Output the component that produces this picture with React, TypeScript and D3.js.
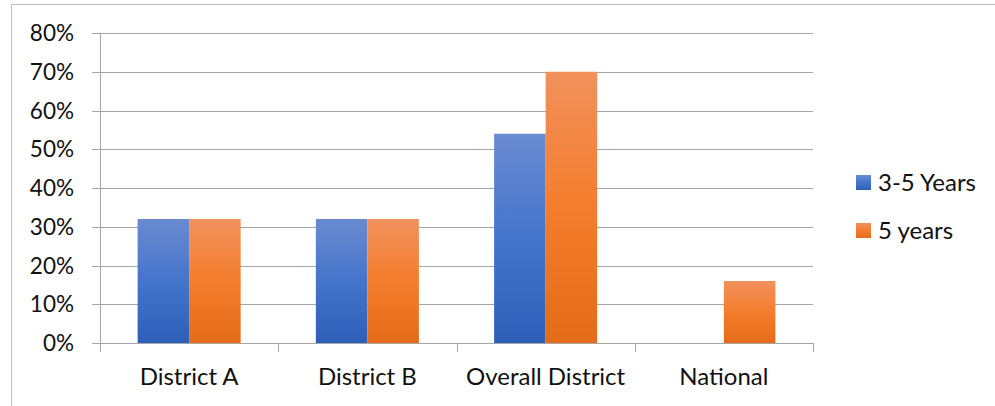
import React from "react";
import * as d3 from "d3";

const categories = ["District A", "District B", "Overall District", "National"];
const seriesNames = ["3-5 Years", "5 years"];
const years35 = [0.32, 0.32, 0.54, 0];
const years5 = [0.32, 0.32, 0.70, 0.16];
const yTicks = [0, 0.1, 0.2, 0.3, 0.4, 0.5, 0.6, 0.7, 0.8];

const W = 995;
const H = 406;
const plot = { left: 100, right: 813, top: 33, bottom: 343 };
const FONT = "Lato, 'Open Sans', sans-serif";

export default function App() {
  const x = d3.scaleBand<string>().domain(categories).range([plot.left, plot.right]).paddingInner(0).paddingOuter(0);
  const inner = d3.scaleBand<string>().domain(seriesNames).range([0, x.bandwidth()]).paddingInner(0).paddingOuter(0.73);
  const y = d3.scaleLinear().domain([0, 0.8]).range([plot.bottom, plot.top]);
  const series = [years35, years5];
  const fmt = d3.format(".0%");
  const gradIds = ["gBlue", "gOrange"];

  return (
    <svg width={W} height={H} style={{ position: "absolute", left: 0, top: 0 }}>
      <defs>
        <linearGradient id="gBlue" x1="0" y1="0" x2="0" y2="1">
          <stop offset="0" stopColor="#6a8bd1" />
          <stop offset="0.5" stopColor="#4574cb" />
          <stop offset="1" stopColor="#2e5fb8" />
        </linearGradient>
        <linearGradient id="gOrange" x1="0" y1="0" x2="0" y2="1">
          <stop offset="0" stopColor="#f1915d" />
          <stop offset="0.5" stopColor="#f47d2d" />
          <stop offset="1" stopColor="#e46b17" />
        </linearGradient>
      </defs>
      <rect x={0} y={0} width={W} height={H} fill="#fff" />
      <line x1={11.5} y1={4.5} x2={W} y2={4.5} stroke="#bfbfbf" strokeWidth={1} />
      <line x1={11.5} y1={4.5} x2={11.5} y2={H} stroke="#bfbfbf" strokeWidth={1} />

      {yTicks.map((t) => (
        <g key={t}>
          <line x1={plot.left - 8} x2={plot.right} y1={Math.round(y(t)) + 0.5} y2={Math.round(y(t)) + 0.5} stroke="#a6a6a6" strokeWidth={1} />
          <text x={74} y={y(t)} dy="0.36em" textAnchor="end" fontFamily={FONT} fontSize={22.5} fill="#111">
            {fmt(t)}
          </text>
        </g>
      ))}
      <line x1={plot.left + 0.5} x2={plot.left + 0.5} y1={plot.top} y2={plot.bottom + 9} stroke="#a6a6a6" strokeWidth={1} />
      {categories.map((c) => (
        <line key={"t" + c} x1={Math.round(x(c)! + x.bandwidth()) + 0.5} x2={Math.round(x(c)! + x.bandwidth()) + 0.5} y1={plot.bottom} y2={plot.bottom + 9} stroke="#a6a6a6" strokeWidth={1} />
      ))}

      {categories.map((c, i) =>
        series.map((s, k) =>
          s[i] > 0 ? (
            <rect
              key={c + k}
              x={x(c)! + inner(seriesNames[k])!}
              y={y(s[i])}
              width={inner.bandwidth()}
              height={y(0) - y(s[i])}
              fill={`url(#${gradIds[k]})`}
            />
          ) : null
        )
      )}

      {categories.map((c) => (
        <text key={"l" + c} x={x(c)! + x.bandwidth() / 2} y={385} textAnchor="middle" fontFamily={FONT} fontSize={24} fill="#111">
          {c}
        </text>
      ))}

      {seriesNames.map((n, k) => (
        <g key={n}>
          <rect x={856} y={175 + k * 48} width={15} height={15} fill={`url(#${gradIds[k]})`} />
          <text x={878} y={182.5 + k * 48} dy="0.36em" fontFamily={FONT} fontSize={24} fill="#111">
            {n}
          </text>
        </g>
      ))}
    </svg>
  );
}
